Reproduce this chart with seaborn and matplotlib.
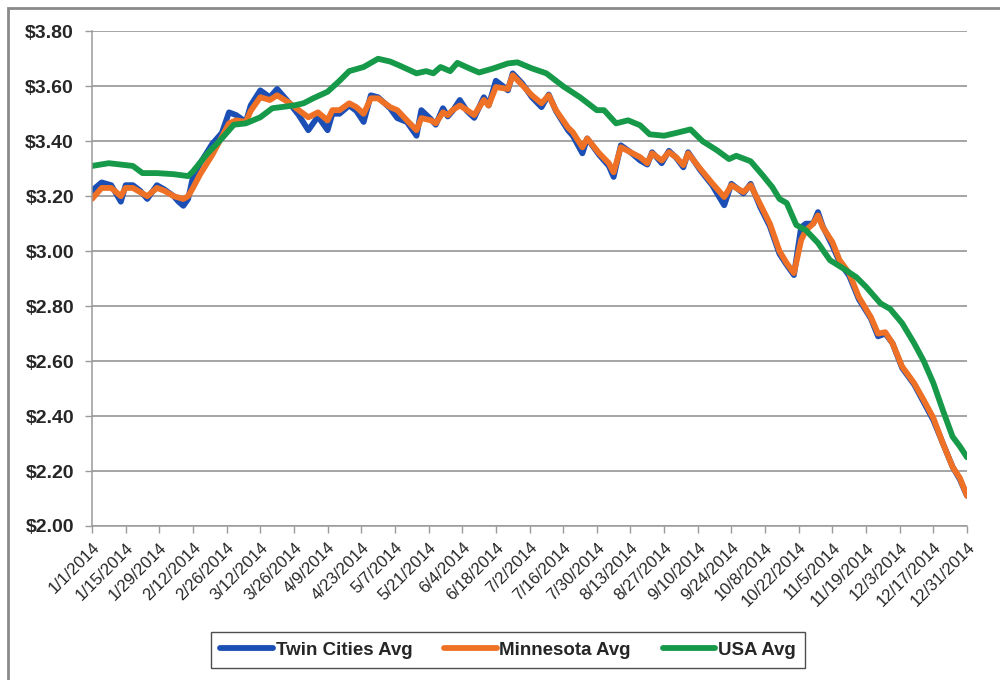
import pandas as pd
import matplotlib.pyplot as plt
import matplotlib.patches as mpatches
import matplotlib.lines as mlines
from matplotlib import font_manager
import seaborn as sns

mn_days = [0, 4, 8, 12, 14, 17, 20, 23, 27, 30, 34, 36, 38, 40, 42, 45, 50, 54, 57, 60,
           64, 66, 70, 74, 77, 82, 86, 90, 94, 98, 100, 103, 107, 110, 113, 116, 119, 124,
           127, 131, 135, 137, 141, 143, 146, 148, 150, 153, 156, 159, 163, 165, 168, 171,
           173, 175, 179, 183, 187, 190, 193, 198, 200, 204, 206, 211, 215, 217, 220, 224,
           228, 231, 233, 237, 240, 243, 246, 248, 253, 258, 263, 266, 271, 274, 278, 282,
           286, 289, 292, 295, 297, 300, 302, 304, 308, 311, 315, 319, 324, 327, 330, 333,
           337, 342, 346, 350, 354, 358, 361, 364]

minnesota = [3.19, 3.23, 3.23, 3.20, 3.23, 3.23, 3.215, 3.20, 3.23, 3.22, 3.20, 3.195, 3.19,
             3.20, 3.23, 3.28, 3.35, 3.415, 3.465, 3.476, 3.47, 3.51, 3.56, 3.55, 3.567, 3.54,
             3.513, 3.487, 3.505, 3.476, 3.513, 3.513, 3.538, 3.524, 3.50, 3.556, 3.556, 3.524,
             3.513, 3.476, 3.44, 3.484, 3.476, 3.465, 3.505, 3.495, 3.513, 3.53, 3.513, 3.495,
             3.55, 3.53, 3.597, 3.593, 3.59, 3.64, 3.604, 3.567, 3.538, 3.567, 3.513, 3.45,
             3.433, 3.378, 3.41, 3.356, 3.32, 3.287, 3.378, 3.36, 3.342, 3.32, 3.356, 3.33,
             3.36, 3.342, 3.313, 3.356, 3.30, 3.247, 3.197, 3.24, 3.215, 3.24, 3.17, 3.10,
             3.00, 2.956, 2.92, 3.04, 3.076, 3.10, 3.13, 3.087, 3.033, 2.967, 2.92, 2.833,
             2.76, 2.70, 2.705, 2.665, 2.58, 2.52, 2.458, 2.393, 2.30, 2.215, 2.175, 2.11]

twin_cities = [3.22, 3.25, 3.24, 3.18, 3.24, 3.24, 3.22, 3.19, 3.24, 3.225, 3.20, 3.18, 3.165,
               3.19, 3.27, 3.32, 3.39, 3.43, 3.505, 3.495, 3.47, 3.53, 3.585, 3.56, 3.59, 3.54,
               3.495, 3.44, 3.49, 3.44, 3.50, 3.50, 3.53, 3.51, 3.47, 3.567, 3.56, 3.52,
               3.484, 3.47, 3.42, 3.513, 3.48, 3.46, 3.52, 3.49, 3.51, 3.55, 3.51, 3.485,
               3.56, 3.53, 3.62, 3.60, 3.585, 3.647, 3.61, 3.56, 3.524, 3.57, 3.51, 3.44,
               3.42, 3.356, 3.41, 3.35, 3.31, 3.27, 3.385, 3.36, 3.33, 3.315, 3.36, 3.32,
               3.365, 3.34, 3.305, 3.36, 3.295, 3.24, 3.167, 3.245, 3.21, 3.245, 3.16, 3.09,
               2.99, 2.95, 2.913, 3.087, 3.10, 3.10, 3.142, 3.09, 3.02, 2.96, 2.91, 2.825,
               2.755, 2.69, 2.70, 2.665, 2.575, 2.515, 2.45, 2.385, 2.30, 2.215, 2.17, 2.11]

usa_days = [0, 7, 17, 21, 27, 34, 40, 42, 48, 53, 59, 64, 70, 75, 84, 88, 92, 98, 103, 107,
            113, 119, 124, 128, 135, 139, 142, 145, 149, 152, 157, 161, 167, 173, 177, 183,
            189, 196, 203, 210, 213, 218, 223, 228, 232, 238, 243, 249, 254, 260, 265, 268,
            274, 279, 283, 286, 289, 293, 297, 302, 307, 312, 318, 322, 328, 332, 337, 342,
            346, 350, 354, 358, 361, 364]

usa = [3.31, 3.32, 3.31, 3.284, 3.284, 3.28, 3.273, 3.29, 3.355, 3.40, 3.46, 3.465, 3.487,
       3.52, 3.53, 3.538, 3.556, 3.58, 3.62, 3.655, 3.67, 3.70, 3.69, 3.675, 3.647, 3.655,
       3.647, 3.67, 3.655, 3.685, 3.665, 3.65, 3.665, 3.683, 3.687, 3.665, 3.647, 3.60,
       3.56, 3.513, 3.513, 3.465, 3.476, 3.458, 3.425, 3.42, 3.43, 3.443, 3.40, 3.367,
       3.335, 3.347, 3.327, 3.276, 3.233, 3.19, 3.175, 3.095, 3.076, 3.03, 2.967, 2.94,
       2.905, 2.87, 2.81, 2.79, 2.738, 2.665, 2.60, 2.52, 2.42, 2.325, 2.29, 2.25]

series_names = ["Twin Cities Avg", "Minnesota Avg", "USA Avg"]
colors = {"Twin Cities Avg": "#1C4FB5", "Minnesota Avg": "#EE7126", "USA Avg": "#17994A"}
y_ticks = [2.00, 2.20, 2.40, 2.60, 2.80, 3.00, 3.20, 3.40, 3.60, 3.80]

start = pd.Timestamp("2014-01-01")


def to_frame(days, values, name):
    return pd.DataFrame({"date": start + pd.to_timedelta(days, unit="D"),
                         "price": values, "series": name})


df = pd.concat([
    to_frame(mn_days, twin_cities, "Twin Cities Avg"),
    to_frame(mn_days, minnesota, "Minnesota Avg"),
    to_frame(usa_days, usa, "USA Avg"),
], ignore_index=True)

sns.set_style("white")
installed = {f.name for f in font_manager.fontManager.ttflist}
narrow = [n for n in ["Liberation Sans Narrow", "DejaVu Sans Condensed"] if n in installed]
plt.rcParams["font.family"] = narrow + ["Liberation Sans", "DejaVu Sans"]

fig = plt.figure(figsize=(10, 6.8), dpi=100)
ax = fig.add_axes([0.092, 0.2265, 0.875, 0.7275])

sns.lineplot(data=df, x="date", y="price", hue="series", hue_order=series_names,
             palette=colors, linewidth=4.2, legend=False, ax=ax, sort=False)

ax.set_ylim(2.0, 3.8)
ax.set_yticks(y_ticks)
ax.set_yticklabels([f"${v:.2f}" for v in y_ticks], fontsize=14, fontweight="bold")
ax.yaxis.grid(True, color="#8c8c8c", linewidth=1.1)
ax.set_axisbelow(True)

tick_dates = pd.date_range("2014-01-01", "2014-12-31", freq="14D")
ax.set_xlim(tick_dates[0], pd.Timestamp("2014-12-31"))
ax.set_xticks(tick_dates)
ax.set_xticklabels([f"{d.month}/{d.day}/{d.year}" for d in tick_dates],
                   rotation=45, ha="right", rotation_mode="anchor", fontsize=12)
ax.set_xlabel("")
ax.set_ylabel("")

for side in ["top", "right"]:
    ax.spines[side].set_visible(False)
for side in ["left", "bottom"]:
    ax.spines[side].set_color("#9a9a9a")
    ax.spines[side].set_linewidth(1.1)
ax.tick_params(axis="both", which="both", direction="out", length=5, width=1,
               color="#9a9a9a", bottom=True, left=True, pad=3)
ax.tick_params(axis="y", pad=8)
ax.tick_params(axis="x", pad=5)

handles = [mlines.Line2D([], [], color=colors[n], linewidth=4.2, solid_capstyle="round")
           for n in series_names]
leg = fig.legend(handles, series_names, loc="center", bbox_to_anchor=(0.508, 0.044),
                 ncol=3, frameon=True, fancybox=False, edgecolor="#222222",
                 prop={"weight": "bold", "size": 13.5}, handlelength=2.8,
                 handletextpad=0.15, columnspacing=1.7, borderpad=0.5)
leg.get_frame().set_linewidth(1.0)

# outer frame around the chart
fig.patches.append(mpatches.Rectangle((0.008, -0.05), 1.2, 1.038, transform=fig.transFigure,
                                      fill=False, edgecolor="#8a8a8a", linewidth=2,
                                      zorder=0))

fig.savefig("out.png", dpi=100)
